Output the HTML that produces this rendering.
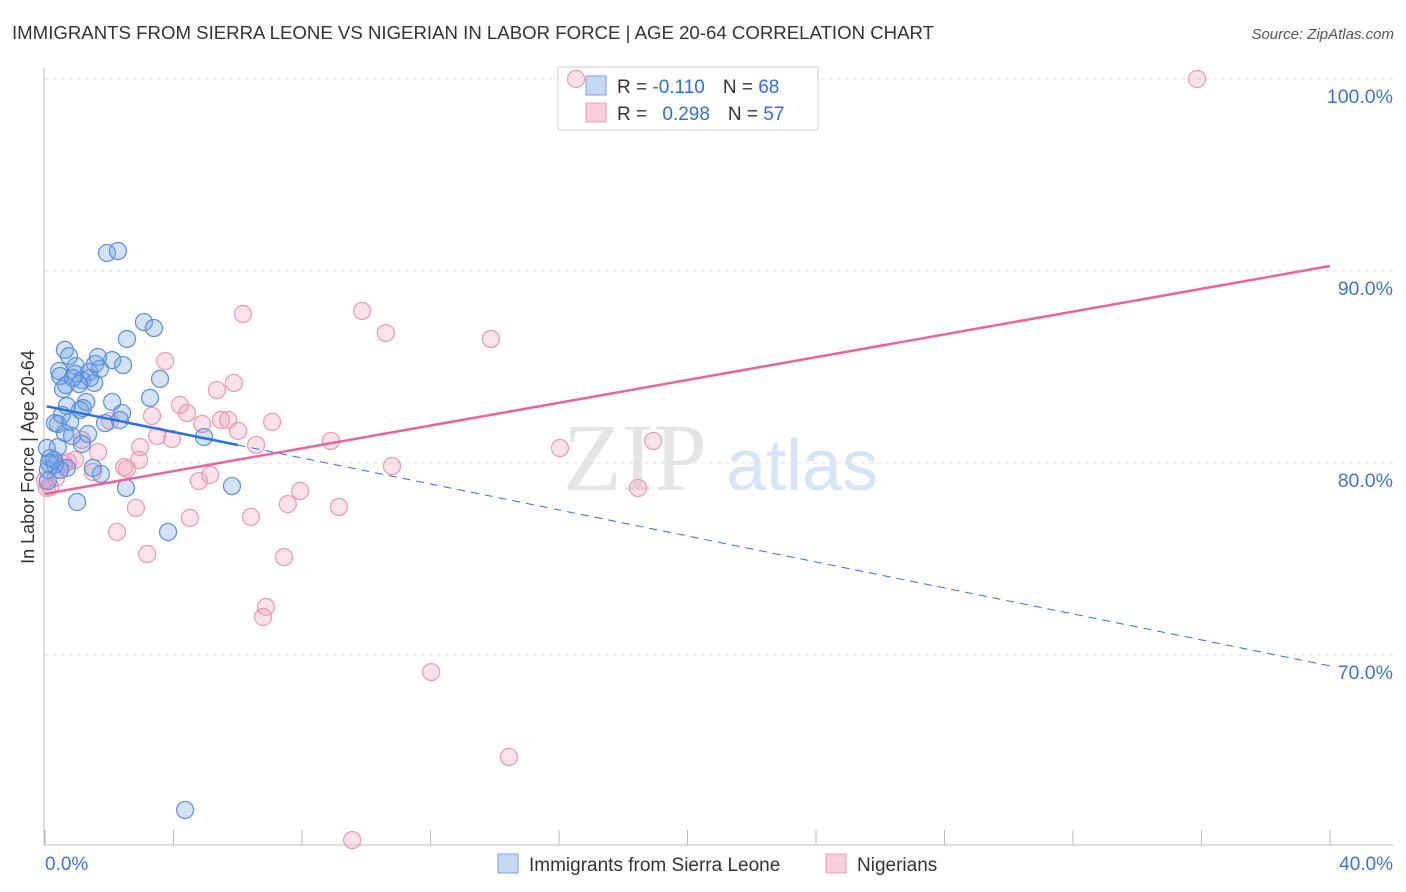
<!DOCTYPE html>
<html><head><meta charset="utf-8"><style>
body{margin:0;background:#fff;font-family:"Liberation Sans",sans-serif;}
svg{display:block}
</style></head><body>
<svg width="1406" height="892" id="chart">
<text x="12" y="39" font-size="18.5" fill="#333" textLength="922" lengthAdjust="spacingAndGlyphs">IMMIGRANTS FROM SIERRA LEONE VS NIGERIAN IN LABOR FORCE | AGE 20-64 CORRELATION CHART</text>
<text x="1394" y="39" font-size="15" fill="#555" font-style="italic" text-anchor="end">Source: ZipAtlas.com</text>
<text x="635" y="490" font-size="96" fill="#e4e4e4" font-family="Liberation Serif,serif" text-anchor="middle">ZIP</text>
<text x="802" y="490" font-size="72" fill="#d6e4f5" text-anchor="middle">atlas</text>
<g id="grid"></g><g id="axes"></g>
<g>
<rect x="558" y="67" width="260" height="63" fill="#fff" stroke="#ccc"/>
<rect x="586" y="76" width="20" height="19" fill="#c5d8f4" stroke="#7aa2e0"/>
<rect x="586" y="103" width="20" height="19" fill="#f9cfdc" stroke="#eb98b2"/>
<text x="617" y="93" font-size="19" fill="#333">R = <tspan fill="#2f6fdb">-0.110</tspan><tspan dx="18">N = </tspan><tspan fill="#2f6fdb">68</tspan></text>
<text x="617" y="120" font-size="19" fill="#333">R = <tspan fill="#2f6fdb" dx="10">0.298</tspan><tspan dx="18">N = </tspan><tspan fill="#2f6fdb">57</tspan></text>
</g>
<g id="pts"></g><g id="lines"></g>
<text transform="translate(34,457) rotate(-90)" font-size="18" fill="#333" text-anchor="middle">In Labor Force | Age 20-64</text>
<g>
<rect x="498" y="854" width="20" height="19" fill="#c5d8f4" stroke="#7aa2e0"/>
<text x="529" y="871" font-size="19" fill="#333">Immigrants from Sierra Leone</text>
<rect x="826" y="854" width="20" height="19" fill="#f9cfdc" stroke="#eb98b2"/>
<text x="857" y="871" font-size="19" fill="#333">Nigerians</text>
</g>
</svg>
<script>
const blueX=[1.93,2.27,3.08,3.39,2.55,0.62,0.75,1.65,2.09,0.96,2.43,0.44,0.47,0.93,1.37,1.53,1.15,3.58,0.56,1.06,3.27,2.09,1.28,0.68,1.09,2.40,2.33,1.87,0.40,0.78,0.62,0.84,1.34,4.95,1.15,0.06,0.40,0.16,0.31,0.09,0.68,1.49,1.74,2.52,5.82,0.09,1.00,3.83,4.36,0.31,0.53,1.71,1.40,0.12,0.47,0.65,1.18,1.56,0.87,0.28];
const blueY=[90.94,91.04,87.34,87.03,86.46,85.89,85.57,85.52,85.36,85.05,85.10,84.79,84.53,84.64,84.74,84.17,84.32,84.38,83.85,84.11,83.39,83.18,83.18,82.97,82.76,82.60,82.24,82.08,82.03,82.14,81.56,81.41,81.51,81.35,80.99,80.78,80.83,80.26,79.90,79.64,79.74,79.74,79.43,78.70,78.80,79.06,77.97,76.41,61.93,82.08,82.50,84.90,84.43,80.0,79.64,84.06,82.86,85.16,84.43,80.16];
const pinkX=[16.53,35.86,9.87,6.16,10.61,13.88,3.74,5.88,5.35,4.20,4.42,3.33,7.07,5.48,5.70,4.89,2.02,6.01,3.49,3.95,8.90,18.93,6.57,2.96,16.03,1.65,0.93,0.59,10.80,2.55,5.14,1.49,0.34,0.16,4.79,7.94,18.46,7.56,9.15,2.83,6.41,4.51,2.24,3.18,7.44,6.88,6.79,12.02,14.44,9.56,0.06,0.47,1.15,0.72,2.46,0.0,2.93];
const pinkY=[100,100,87.92,87.76,86.77,86.46,85.31,84.17,83.80,83.02,82.60,82.45,82.14,82.24,82.24,82.03,82.19,81.67,81.41,81.25,81.15,81.15,80.94,80.83,80.78,80.57,80.16,79.95,79.84,79.69,79.38,79.53,79.22,78.75,79.06,78.54,78.70,77.86,77.71,77.66,77.19,77.14,76.41,75.26,75.10,72.50,71.98,69.11,64.69,60.36,78.70,79.64,81.20,80.05,79.79,79.1,80.16];
const blueTrend=[82.97,69.43];
const pinkTrend=[78.39,90.26];
const yTicks=[100,90,80,70];
const xTickLabels=["0.0%","40.0%"];
const X=v=>45+v/40*1285, Y=v=>79+(100-v)*19.2;
const NS="http://www.w3.org/2000/svg";
function mk(t,a,p){const e=document.createElementNS(NS,t);for(const k in a)e.setAttribute(k,a[k]);p.appendChild(e);return e;}
const grid=document.getElementById('grid'),axes=document.getElementById('axes'),pts=document.getElementById('pts'),lines=document.getElementById('lines');
yTicks.forEach(v=>{
 const l=mk('line',{x1:45,x2:1393,y1:Y(v),y2:Y(v),stroke:'#e0e0e0','stroke-dasharray':'4,4'},grid);
 
 
 const t=mk('text',{x:1393,y:Y(v)+24,'font-size':19.5,fill:'#3b73d6','text-anchor':'end'},axes);t.textContent=v.toFixed(1)+'%';
 
 
});
mk('line',{x1:44,x2:44,y1:68,y2:845,stroke:'#bbb'},axes);
mk('line',{x1:44,x2:1393,y1:845,y2:845,stroke:'#bbb'},axes);
for(let i=0;i<=10;i++){mk('line',{x1:X(i*4),x2:X(i*4),y1:830,y2:845,stroke:'#bbb'},axes);}
xTickLabels.forEach((s,i)=>{const t=mk('text',{x:i?1393:45,y:870,'font-size':19,fill:'#3b73d6','text-anchor':i?'end':'start'},axes);t.textContent=s;
 
 });
pinkX.forEach((x,i)=>{const c=mk('circle',{cx:X(x),cy:Y(pinkY[i]),r:8.5,fill:'rgba(242,150,180,0.28)',stroke:'#eb98b2','stroke-width':1.2},pts);
 
 });
blueX.forEach((x,i)=>{const c=mk('circle',{cx:X(x),cy:Y(blueY[i]),r:8.5,fill:'rgba(110,160,230,0.3)',stroke:'#5a8fdc','stroke-width':1.2},pts);
 
 });
const bf=v=>blueTrend[0]+(blueTrend[1]-blueTrend[0])*v/40;
let l1=mk('line',{x1:X(0.05),y1:Y(bf(0.05)),x2:X(6),y2:Y(bf(6)),stroke:'#2f6fdb','stroke-width':2.5},lines);


let l2=mk('line',{x1:X(6),y1:Y(bf(6)),x2:X(40),y2:Y(bf(40)),stroke:'#2f6fdb','stroke-width':1,'stroke-dasharray':'8,6'},lines);


let l3=mk('line',{x1:X(0),y1:Y(pinkTrend[0]),x2:X(40),y2:Y(pinkTrend[1]),stroke:'#e8649a','stroke-width':2.5},lines);


</script>
</body></html>
